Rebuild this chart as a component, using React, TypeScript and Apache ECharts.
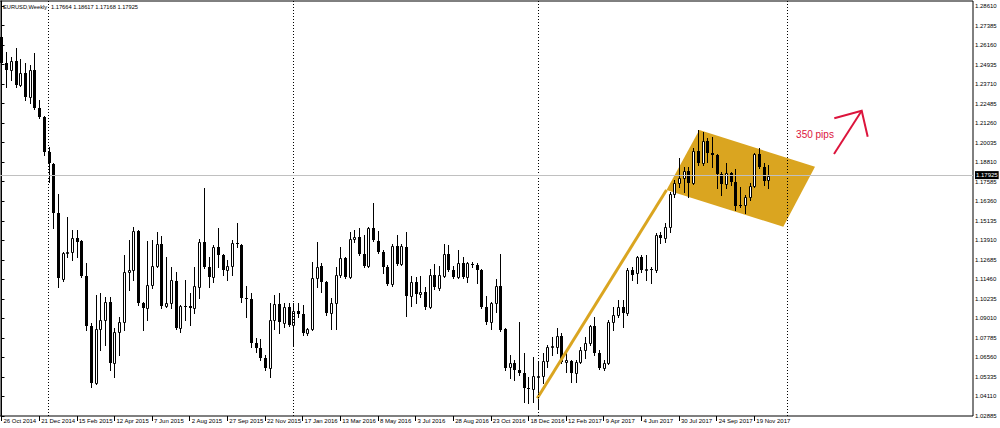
import React, { useEffect, useRef } from 'react';
import * as echarts from 'echarts';

// Weekly EURUSD bars, index 0 = week of 26 Oct 2014
const opens = [
  1.2666, 1.2503, 1.2459, 1.2516, 1.2365, 1.2441, 1.2290, 1.2459, 1.2221, 1.2165,
  1.1945, 1.1870, 1.1562, 1.1148, 1.1311, 1.1317, 1.1405, 1.1387, 1.1167, 1.0853,
  1.0496, 1.0834, 1.0891, 1.1004, 1.0621, 1.0816, 1.0878, 1.1192, 1.1205, 1.1449,
  1.0998, 1.0966, 1.1110, 1.1230, 1.1368, 1.0979, 1.0998, 1.1136, 1.0841, 1.0979,
  1.0979, 1.0966, 1.1098, 1.1380, 1.1223, 1.1161, 1.1349, 1.1299, 1.1205, 1.1230,
  1.1374, 1.1361, 1.1029, 1.1023, 1.0747, 1.0715, 1.0652, 1.0590, 1.0891, 1.0991,
  1.0872, 1.0972, 1.0859, 1.0947, 1.0928, 1.0809, 1.0834, 1.1154, 1.1230, 1.1129,
  1.0935, 1.0998, 1.1173, 1.1280, 1.1161, 1.1399, 1.1412, 1.1305, 1.1230, 1.1468,
  1.1387, 1.1317, 1.1223, 1.1117, 1.1355, 1.1242, 1.1349, 1.1041, 1.1129, 1.1054,
  1.1066, 1.0972, 1.1173, 1.1092, 1.1167, 1.1305, 1.1205, 1.1161, 1.1248, 1.1161,
  1.1242, 1.1236, 1.1205, 1.0972, 1.0878, 1.0998, 1.1104, 1.0834, 1.0596, 1.0621,
  1.0577, 1.0558, 1.0464, 1.0458, 1.0533, 1.0539, 1.0634, 1.0721, 1.0721, 1.0790,
  1.0627, 1.0634, 1.0558, 1.0627, 1.0703, 1.0747, 1.0853, 1.0684, 1.0590, 1.0621,
  1.0878, 1.0922, 1.0972, 1.0935, 1.1205, 1.1186, 1.1286, 1.1205, 1.1211, 1.1205,
  1.1424, 1.1405, 1.1474, 1.1681, 1.1750, 1.1782, 1.1826, 1.1750, 1.1951, 1.1876,
  1.2014, 1.1939, 1.1926, 1.1807, 1.1744, 1.1813, 1.1757, 1.1612, 1.1612, 1.1662,
  1.1732, 1.1932, 1.1851, 1.17664
];
const highs = [
  1.2773, 1.2572, 1.2541, 1.2597, 1.2528, 1.2503, 1.2491, 1.2566, 1.2271, 1.2171,
  1.1976, 1.1876, 1.1681, 1.1317, 1.1537, 1.1456, 1.1456, 1.1393, 1.1248, 1.0872,
  1.1048, 1.1060, 1.1035, 1.1035, 1.0841, 1.0910, 1.1299, 1.1393, 1.1474, 1.1456,
  1.1004, 1.1387, 1.1393, 1.1443, 1.1418, 1.1286, 1.1223, 1.1192, 1.0985, 1.1142,
  1.1060, 1.1223, 1.1399, 1.1719, 1.1286, 1.1361, 1.1468, 1.1305, 1.1267, 1.1393,
  1.1499, 1.1368, 1.1104, 1.1060, 1.0778, 1.0772, 1.0671, 1.0998, 1.1048, 1.1060,
  1.0998, 1.0998, 1.0998, 1.0998, 1.0985, 1.0841, 1.1255, 1.1380, 1.1248, 1.1136,
  1.1029, 1.1223, 1.1349, 1.1286, 1.1443, 1.1456, 1.1468, 1.1424, 1.1474, 1.1625,
  1.1449, 1.1330, 1.1236, 1.1368, 1.1424, 1.1368, 1.1443, 1.1167, 1.1161, 1.1167,
  1.1098, 1.1211, 1.1242, 1.1230, 1.1368, 1.1361, 1.1230, 1.1330, 1.1286, 1.1255,
  1.1255, 1.1248, 1.1211, 1.1041, 1.1004, 1.1148, 1.1305, 1.0840, 1.0671, 1.0640,
  1.0878, 1.0684, 1.0533, 1.0659, 1.0634, 1.0684, 1.0734, 1.0784, 1.0841, 1.0809,
  1.0684, 1.0640, 1.0640, 1.0721, 1.0784, 1.0859, 1.0910, 1.0703, 1.0640, 1.0891,
  1.0972, 1.1016, 1.1016, 1.1217, 1.1223, 1.1292, 1.1299, 1.1299, 1.1223, 1.1437,
  1.1443, 1.1499, 1.1694, 1.1769, 1.1907, 1.1851, 1.1851, 1.1970, 1.2083, 1.2072,
  1.2033, 1.2040, 1.1932, 1.1819, 1.1876, 1.1819, 1.1838, 1.1725, 1.1675, 1.1750,
  1.1939, 1.1970, 1.1876, 1.18617
];
const lows = [
  1.2491, 1.2353, 1.2397, 1.2353, 1.2359, 1.2271, 1.2252, 1.2215, 1.2158, 1.1926,
  1.1757, 1.1468, 1.1098, 1.1135, 1.1286, 1.1267, 1.1286, 1.1161, 1.0828, 1.0471,
  1.0489, 1.0703, 1.0734, 1.0577, 1.0533, 1.0671, 1.0828, 1.1079, 1.1142, 1.0985,
  1.0828, 1.0891, 1.1092, 1.1223, 1.0966, 1.0972, 1.0966, 1.0834, 1.0816, 1.0891,
  1.0859, 1.0935, 1.1029, 1.1217, 1.1098, 1.1129, 1.1223, 1.1173, 1.1142, 1.1173,
  1.1349, 1.1004, 1.0910, 1.0721, 1.0690, 1.0640, 1.0577, 1.0533, 1.0834, 1.0809,
  1.0847, 1.0853, 1.0734, 1.0910, 1.0797, 1.0797, 1.0828, 1.1098, 1.1067, 1.0922,
  1.0834, 1.0834, 1.1161, 1.1154, 1.1154, 1.1380, 1.1299, 1.1223, 1.1223, 1.1387,
  1.1311, 1.1186, 1.1110, 1.1104, 1.1236, 1.1236, 1.0916, 1.0979, 1.0998, 1.1035,
  1.0960, 1.0966, 1.1085, 1.1079, 1.1161, 1.1198, 1.1154, 1.1155, 1.1154, 1.1129,
  1.1223, 1.1123, 1.0966, 1.0866, 1.0834, 1.0941, 1.0822, 1.0577, 1.0527, 1.0514,
  1.0546, 1.0376, 1.0370, 1.0376, 1.0339, 1.0496, 1.0596, 1.0671, 1.0684, 1.0621,
  1.0565, 1.0502, 1.0502, 1.0621, 1.0652, 1.0734, 1.0671, 1.0583, 1.0577, 1.0615,
  1.0828, 1.0910, 1.0847, 1.0922, 1.1142, 1.1123, 1.1192, 1.1142, 1.1123, 1.1192,
  1.1374, 1.1380, 1.1443, 1.1662, 1.1725, 1.1694, 1.1662, 1.1744, 1.1863, 1.1863,
  1.1882, 1.1851, 1.1719, 1.1675, 1.1719, 1.1738, 1.1581, 1.1600, 1.1562, 1.1644,
  1.1725, 1.1845, 1.1738, 1.17168
];
const closes = [
  1.2503, 1.2459, 1.2516, 1.2365, 1.2441, 1.2290, 1.2459, 1.2221, 1.2165, 1.1945,
  1.1876, 1.1562, 1.1154, 1.1311, 1.1317, 1.1405, 1.1380, 1.1167, 1.0853, 1.0496,
  1.0834, 1.0891, 1.1004, 1.0621, 1.0816, 1.0878, 1.1192, 1.1205, 1.1449, 1.0998,
  1.0966, 1.1110, 1.1230, 1.1368, 1.0979, 1.0998, 1.1142, 1.0841, 1.0979, 1.0975,
  1.0966, 1.1104, 1.1380, 1.1223, 1.1161, 1.1349, 1.1299, 1.1205, 1.1230, 1.1374,
  1.1368, 1.1029, 1.1023, 1.0747, 1.0715, 1.0652, 1.0590, 1.0891, 1.0991, 1.0878,
  1.0972, 1.0859, 1.0947, 1.0928, 1.0809, 1.0834, 1.1154, 1.1223, 1.1129, 1.0935,
  1.0998, 1.1173, 1.1280, 1.1161, 1.1399, 1.1412, 1.1305, 1.1230, 1.1468, 1.1393,
  1.1317, 1.1223, 1.1117, 1.1355, 1.1242, 1.1355, 1.1041, 1.1129, 1.1054, 1.1066,
  1.0972, 1.1173, 1.1098, 1.1173, 1.1305, 1.1205, 1.1161, 1.1248, 1.1161, 1.1248,
  1.1236, 1.1205, 1.0972, 1.0878, 1.0998, 1.1104, 1.0828, 1.0590, 1.0621, 1.0577,
  1.0558, 1.0464, 1.0458, 1.0539, 1.0539, 1.0634, 1.0721, 1.0728, 1.0790, 1.0627,
  1.0640, 1.0558, 1.0627, 1.0703, 1.0747, 1.0853, 1.0684, 1.0590, 1.0621, 1.0878,
  1.0922, 1.0972, 1.0935, 1.1205, 1.1173, 1.1286, 1.1205, 1.1211, 1.1208, 1.1424,
  1.1405, 1.1474, 1.1681, 1.1750, 1.1782, 1.1826, 1.1750, 1.1951, 1.1876, 1.2014,
  1.1939, 1.1926, 1.1807, 1.1744, 1.1813, 1.1757, 1.1606, 1.1606, 1.1662, 1.1732,
  1.1932, 1.1851, 1.1766, 1.17925
];

const dateLabels = [
  '26 Oct 2014', '21 Dec 2014', '15 Feb 2015', '12 Apr 2015', '7 Jun 2015', '2 Aug 2015',
  '27 Sep 2015', '22 Nov 2015', '17 Jan 2016', '13 Mar 2016', '8 May 2016', '3 Jul 2016',
  '28 Aug 2016', '23 Oct 2016', '18 Dec 2016', '12 Feb 2017', '9 Apr 2017', '4 Jun 2017',
  '30 Jul 2017', '24 Sep 2017', '19 Nov 2017'
];
const dateLabelIndex = [0, 8, 16, 24, 32, 40, 48, 56, 64, 72, 80, 88, 96, 104, 112, 120, 128, 136, 144, 152, 160];
const priceTicks = [
  1.02885, 1.0411, 1.05335, 1.0656, 1.07785, 1.0901, 1.10235, 1.1146, 1.12685, 1.1391, 1.15135,
  1.1636, 1.17585, 1.1881, 1.20035, 1.2126, 1.22485, 1.2371, 1.24935, 1.2616, 1.27385, 1.2861
];
const separatorIndex = [10, 62, 114, 167];

// Annotations in (bar index, price)
const trendLine = [[113.88, 1.03995], [141.34, 1.17065]];
const flagPoints = [[141.34, 1.17065], [148.31, 1.2083], [172.9, 1.18527], [166.16, 1.14762]];

const GOLD = '#DAA520';
const RED = '#DC143C';
const FONT = 'Liberation Sans, Arial, sans-serif';

export default function App() {
  const ref = useRef<HTMLDivElement>(null);
  useEffect(() => {
    document.body.style.margin = '0';
    const chart = echarts.init(ref.current as HTMLDivElement, null, { renderer: 'svg' });
    const last = closes.length - 1;
    const candleData = opens.map((o, i) => [i, o, closes[i], lows[i], highs[i]]);
    const ohlcText = [opens[last], highs[last], lows[last], closes[last]].map((v) => v.toFixed(5)).join(' ');

    const option: any = {
      animation: false,
      textStyle: { fontFamily: FONT },
      grid: {
        left: 0, top: 1, width: 973, height: 415,
        show: true, borderColor: '#000', borderWidth: 1, backgroundColor: '#fff'
      },
      xAxis: {
        type: 'value', min: -0.3188, max: 206.48,
        axisLine: { show: false },
        splitLine: { show: false },
        axisTick: { show: true, customValues: dateLabelIndex, length: 5, lineStyle: { color: '#000' } },
        axisLabel: {
          customValues: dateLabelIndex,
          formatter: (v: number) => dateLabels[dateLabelIndex.indexOf(v)] || '',
          fontSize: 6, color: '#000', align: 'left', margin: 2, padding: [0, 0, 0, 2], fontFamily: FONT
        }
      },
      yAxis: {
        type: 'value', position: 'right', min: 1.02885, max: 1.289237, scale: true,
        axisLine: { show: true, lineStyle: { color: '#000' } },
        splitLine: { show: false },
        axisTick: { show: true, customValues: priceTicks, length: 3, lineStyle: { color: '#000' } },
        axisLabel: {
          customValues: priceTicks,
          formatter: (v: number) => v.toFixed(5),
          fontSize: 6, color: '#000', margin: 2, fontFamily: FONT
        }
      },
      series: [
        {
          type: 'custom', z: 1, silent: true,
          data: [flagPoints[0]],
          encode: { x: 0, y: 1 },
          renderItem: (_p: any, api: any) => ({
            type: 'polygon',
            shape: { points: flagPoints.map((pt) => api.coord(pt)) },
            style: { fill: GOLD }
          })
        },
        {
          type: 'custom', z: 2, silent: true, clip: true,
          data: candleData,
          encode: { x: 0, y: [1, 2, 3, 4] },
          renderItem: (_p: any, api: any) => {
            const i = api.value(0), o = api.value(1), c = api.value(2), l = api.value(3), h = api.value(4);
            const po = api.coord([i, o]), pc = api.coord([i, c]), pl = api.coord([i, l]), ph = api.coord([i, h]);
            const xc = Math.round(po[0]);
            const top = Math.round(Math.min(po[1], pc[1]));
            const bot = Math.round(Math.max(po[1], pc[1]));
            const bull = c >= o;
            const children: any[] = [
              {
                type: 'line',
                shape: { x1: xc + 0.5, y1: Math.round(ph[1]), x2: xc + 0.5, y2: Math.round(pl[1]) + 1 },
                style: { stroke: '#000', lineWidth: 1 }
              }
            ];
            if (bull) {
              children.push({
                type: 'rect',
                shape: { x: xc - 0.5, y: top + 0.5, width: 2, height: Math.max(bot - top, 1) },
                style: { fill: '#fff', stroke: '#000', lineWidth: 1 }
              });
            } else {
              children.push({
                type: 'rect',
                shape: { x: xc - 1, y: top, width: 3, height: Math.max(bot - top, 1) },
                style: { fill: '#000' }
              });
            }
            return { type: 'group', children };
          },
          markLine: {
            silent: true, symbol: ['none', 'none'], animation: false,
            data: [
              ...separatorIndex.map((v) => ({
                xAxis: v,
                lineStyle: { type: [1, 2], color: '#000', width: 1 },
                label: { show: false }
              })),
              {
                yAxis: closes[last],
                lineStyle: { type: 'solid', color: '#C0C0C0', width: 1 },
                label: {
                  show: true, position: 'end', formatter: closes[last].toFixed(5),
                  color: '#fff', backgroundColor: '#000', fontSize: 6, padding: [1, 1, 1, 1], distance: 2,
                  fontFamily: FONT
                }
              }
            ]
          }
        },
        {
          type: 'line', z: 3, silent: true,
          data: trendLine, symbol: 'none',
          lineStyle: { color: GOLD, width: 3 }
        }
      ],
      graphic: [
        {
          type: 'text', x: 3, y: 7, silent: true,
          style: { text: 'EURUSD,Weekly', fontSize: 5.7, fontFamily: FONT, fill: '#000', verticalAlign: 'middle', textVerticalAlign: 'middle' }
        },
        {
          type: 'text', x: 51, y: 7, silent: true,
          style: { text: ohlcText, fontSize: 5.7, fontFamily: FONT, fill: '#000', verticalAlign: 'middle', textVerticalAlign: 'middle' }
        },
        {
          type: 'text', x: 815, y: 134, silent: true,
          style: { text: '350 pips', fontSize: 10, fontFamily: FONT, fill: RED, align: 'center', textAlign: 'center', verticalAlign: 'middle', textVerticalAlign: 'middle' }
        },
        {
          type: 'polyline', silent: true,
          shape: { points: [[834, 154], [861.7, 110.7]] },
          style: { stroke: RED, lineWidth: 2, fill: null }
        },
        {
          type: 'polyline', silent: true,
          shape: { points: [[834.3, 118.3], [861.7, 110.7], [867.7, 136.7]] },
          style: { stroke: RED, lineWidth: 2, fill: null }
        }
      ]
    };
    chart.setOption(option);
    return () => chart.dispose();
  }, []);
  return (
    <div
      ref={ref}
      style={{ position: 'fixed', left: 0, top: 0, width: 1000, height: 428, background: '#fff' }}
    />
  );
}
